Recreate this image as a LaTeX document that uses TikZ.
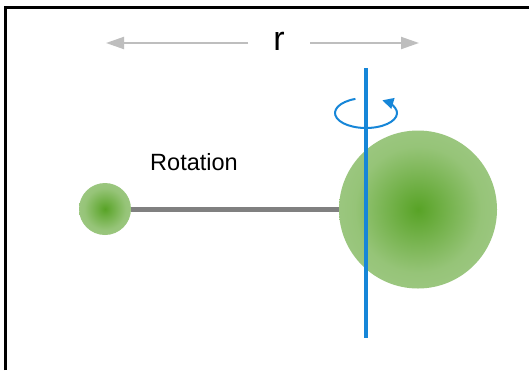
\documentclass[tikz,border=0pt]{standalone}
\usepackage{fontspec}
\setmainfont{Liberation Sans}
\usetikzlibrary{arrows.meta}
\definecolor{gcenter}{RGB}{88,163,38}
\definecolor{gmid}{RGB}{150,196,120}
\definecolor{gedge}{RGB}{178,210,160}
\definecolor{axisblue}{RGB}{22,134,216}
\definecolor{rodgray}{RGB}{128,128,128}
\definecolor{arrgray}{RGB}{190,190,190}
\pgfdeclareradialshading{ballgreen}{\pgfpoint{0bp}{0bp}}{color(0bp)=(gcenter); color(20bp)=(gmid); color(50bp)=(gedge)}
\tikzset{
  ball/.style={circle, draw=none, shading=ballgreen, inner sep=0pt},
  rarrow/.style={arrgray, line width=2pt, -{Triangle[length=18pt,width=12pt]}},
  lbl/.style={inner sep=0pt, text=black}
}
\begin{document}
\begin{tikzpicture}[x=1pt,y=-1pt]
\useasboundingbox (0,0) rectangle (529,370);
\fill[white] (0,0) rectangle (529,370);
% frame
\draw[line width=2.5pt, black] (5.5,370) -- (5.5,7.5) -- (529,7.5);
% distance label and arrows
\node[lbl, font=\fontsize{34}{34}\selectfont] (r) at (279,41) {r};
\coordinate (lt) at (106,43);
\coordinate (rt) at (419,43);
\coordinate (ls) at (248,43);
\coordinate (rs) at (310,43);
\draw[rarrow] (ls) -- (lt);
\draw[rarrow] (rs) -- (rt);
% balls
\node[ball, minimum size=52pt] (small) at (105,209) {};
\node[ball, minimum size=158pt] (big) at (418,209.5) {};
\draw[rodgray, line width=5pt] (small.east) -- (big.west |- small.east);
% label
\node[lbl, font=\fontsize{23.5}{23.5}\selectfont] (rot) at (194,162) {Rotation};
% axis
\coordinate (axtop) at (366,68);
\coordinate (axbot) at (366,338);
\draw[axisblue, line width=4.5pt] (axtop) -- (axbot);
% rotation arrow
\coordinate (rc) at (366,113);
\draw[axisblue, line width=2pt, -{Triangle[length=11pt,width=11pt]}]
  ([shift={(110:31pt and 15pt)}]rc) arc[start angle=110, end angle=418, x radius=31pt, y radius=15pt];
\end{tikzpicture}
\end{document}
